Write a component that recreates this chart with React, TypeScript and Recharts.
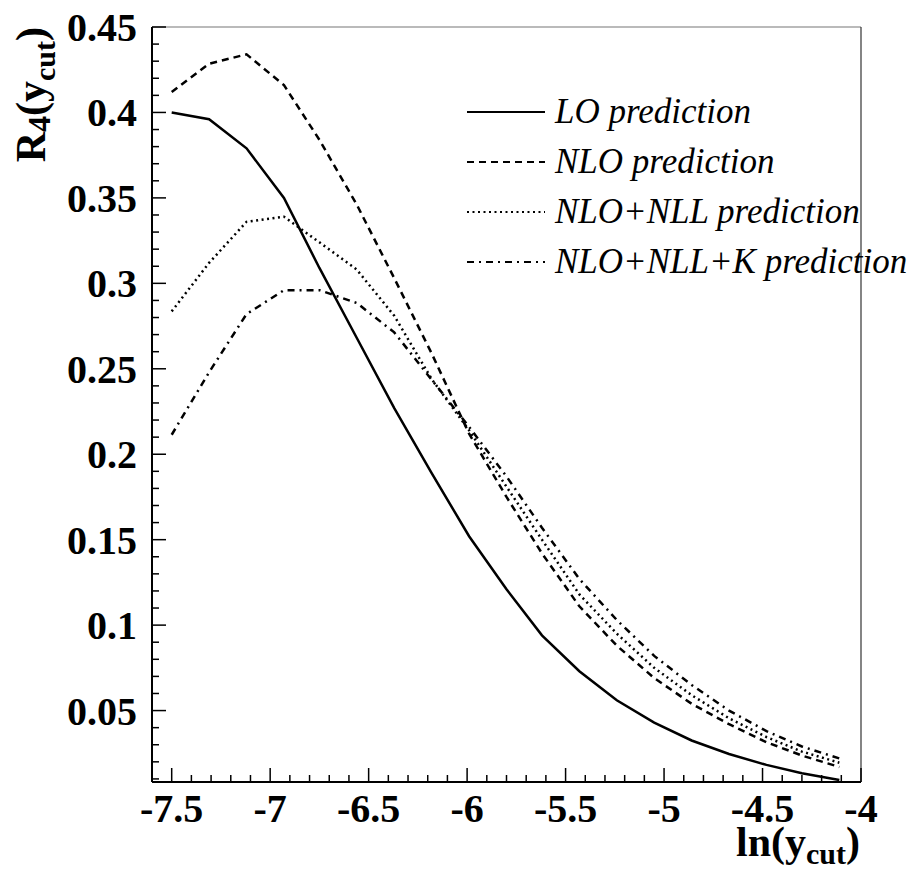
import { LineChart, Line, XAxis, YAxis, Legend, ReferenceLine } from "recharts";

// ln(y_cut) nodes
const lnYcut = [-7.5, -7.31, -7.12, -6.93, -6.75, -6.56, -6.37, -6.18, -5.99, -5.8, -5.62, -5.43, -5.24, -5.05, -4.86, -4.67, -4.48, -4.3, -4.11];

const loPrediction = [0.4, 0.396, 0.379, 0.35, 0.309, 0.268, 0.227, 0.189, 0.152, 0.121, 0.094, 0.073, 0.056, 0.043, 0.0325, 0.0246, 0.0182, 0.0133, 0.0094];
const nloPrediction = [0.412, 0.4285, 0.434, 0.416, 0.384, 0.346, 0.303, 0.259, 0.212, 0.175, 0.142, 0.111, 0.088, 0.069, 0.054, 0.042, 0.0315, 0.0237, 0.017];
const nllPrediction = [0.2836, 0.312, 0.336, 0.339, 0.324, 0.308, 0.281, 0.244, 0.214, 0.181, 0.15, 0.118, 0.095, 0.075, 0.059, 0.0455, 0.0345, 0.026, 0.0195];
const nllkPrediction = [0.2114, 0.248, 0.282, 0.296, 0.296, 0.2885, 0.2713, 0.2436, 0.216, 0.187, 0.157, 0.127, 0.103, 0.082, 0.065, 0.05, 0.038, 0.029, 0.022];

const xMajorTicks = [-7.5, -7, -6.5, -6, -5.5, -5, -4.5, -4];
const yMajorTicks = [0.05, 0.1, 0.15, 0.2, 0.25, 0.3, 0.35, 0.4, 0.45];

const X_DOMAIN = [-7.6, -4];
const Y_DOMAIN = [0.0082, 0.45];

const seriesInfo = [
  { key: "lo", label: "LO prediction", dash: undefined },
  { key: "nlo", label: "NLO prediction", dash: "7 5" },
  { key: "nll", label: "NLO+NLL prediction", dash: "2 3.5" },
  { key: "nllk", label: "NLO+NLL+K prediction", dash: "7 5 2 5" },
];

const data = lnYcut.map((x, i) => ({
  x,
  lo: loPrediction[i],
  nlo: nloPrediction[i],
  nll: nllPrediction[i],
  nllk: nllkPrediction[i],
}));

// minor ticks every 0.1 on x, 0.01 on y
const xTicks = Array.from({ length: 36 }, (_, i) => Math.round((-7.5 + i * 0.1) * 10) / 10);
const yTicks = Array.from({ length: 45 }, (_, i) => Math.round((0.01 + i * 0.01) * 100) / 100);

const FONT = "'Liberation Serif', 'Times New Roman', serif";

// plot box in px, used to turn tick lengths (px) into data units
const PLOT_W = 919 - 152 - 58;
const PLOT_H = 871 - 27 - 89;
const xPerPx = (X_DOMAIN[1] - X_DOMAIN[0]) / PLOT_W;
const yPerPx = (Y_DOMAIN[1] - Y_DOMAIN[0]) / PLOT_H;

const isMajor = (v: number, majors: number[]) => majors.some((m) => Math.abs(m - v) < 1e-6);

const renderXTick = (props: any) => {
  const { x, y, payload } = props;
  if (!isMajor(payload.value, xMajorTicks)) return <g />;
  return (
    <text x={x} y={y + 40} textAnchor="middle" fontFamily={FONT} fontWeight="bold" fontSize={40} fill="#000">
      {String(payload.value)}
    </text>
  );
};

const renderYTick = (props: any) => {
  const { x, y, payload } = props;
  if (!isMajor(payload.value, yMajorTicks)) return <g />;
  return (
    <text x={x - 15} y={y + 14} textAnchor="end" fontFamily={FONT} fontWeight="bold" fontSize={40} fill="#000">
      {String(payload.value)}
    </text>
  );
};

function LegendBox() {
  return (
    <svg width={440} height={190} style={{ display: "block" }}>
      {seriesInfo.map((s, i) => {
        const cy = 20 + i * 50;
        return (
          <g key={s.key}>
            <line x1={0} x2={78} y1={cy} y2={cy} stroke="#000" strokeWidth={2} strokeDasharray={s.dash} />
            <text x={88} y={cy + 11} fontFamily={FONT} fontStyle="italic" fontSize={35} fill="#000">
              {s.label}
            </text>
          </g>
        );
      })}
    </svg>
  );
}

export default function App() {
  return (
    <div style={{ position: "absolute", left: 0, top: 0, width: 919, height: 871, background: "#fff" }}>
      <LineChart width={919} height={871} data={data} margin={{ top: 27, right: 58, bottom: 29, left: 0 }}>
        <XAxis
          dataKey="x"
          type="number"
          domain={X_DOMAIN}
          ticks={xTicks}
          interval={0}
          height={60}
          tickSize={0}
          tickMargin={0}
          tickLine={false}
          axisLine={{ stroke: "#000", strokeWidth: 2 }}
          tick={renderXTick}
        />
        <YAxis
          type="number"
          domain={Y_DOMAIN}
          ticks={yTicks}
          interval={0}
          width={152}
          tickSize={0}
          tickMargin={0}
          tickLine={false}
          axisLine={{ stroke: "#000", strokeWidth: 2 }}
          tick={renderYTick}
        />
        <ReferenceLine y={0.45} stroke="#777" strokeWidth={1.2} />
        <ReferenceLine x={-4} stroke="#333" strokeWidth={1.2} />
        {xTicks.map((t) => (
          <ReferenceLine
            key={`xm-${t}`}
            ifOverflow="visible"
            stroke="#000"
            strokeWidth={1.5}
            segment={[
              { x: t, y: Y_DOMAIN[0] },
              { x: t, y: Y_DOMAIN[0] + (isMajor(t, xMajorTicks) ? 14 : 7) * yPerPx },
            ]}
          />
        ))}
        {yTicks.map((t) => (
          <ReferenceLine
            key={`ym-${t}`}
            ifOverflow="visible"
            stroke="#000"
            strokeWidth={1.5}
            segment={[
              { x: X_DOMAIN[0], y: t },
              { x: X_DOMAIN[0] + (isMajor(t, yMajorTicks) ? 14 : 7) * xPerPx, y: t },
            ]}
          />
        ))}
        <Legend
          layout="vertical"
          align="center"
          verticalAlign="middle"
          wrapperStyle={{ left: 467, top: 92, width: 440 }}
          content={() => <LegendBox />}
        />
        {seriesInfo.map((s) => (
          <Line
            key={s.key}
            type="linear"
            dataKey={s.key}
            stroke="#000"
            strokeWidth={2.5}
            strokeDasharray={s.dash}
            dot={false}
            isAnimationActive={false}
          />
        ))}
      </LineChart>
      <svg width={919} height={871} style={{ position: "absolute", left: 0, top: 0, pointerEvents: "none" }}>
        <text x={860} y={856} textAnchor="end" fontFamily={FONT} fontWeight="bold" fontSize={42} fill="#000">
          ln(y
          <tspan fontSize={30} dy={8}>cut</tspan>
          <tspan dy={-8}>)</tspan>
        </text>
        <text transform="translate(45,27) rotate(-90)" textAnchor="end" fontFamily={FONT} fontWeight="bold" fontSize={42} fill="#000">
          R
          <tspan fontSize={32} dy={5}>4</tspan>
          <tspan dy={-5}>(y</tspan>
          <tspan fontSize={30} dy={10}>cut</tspan>
          <tspan dy={-10}>)</tspan>
        </text>
      </svg>
    </div>
  );
}
